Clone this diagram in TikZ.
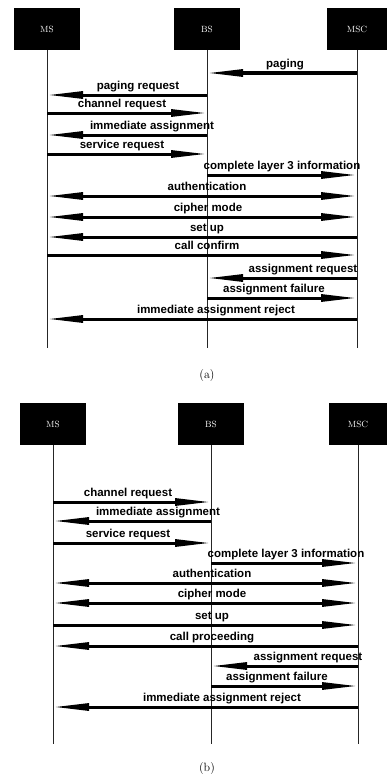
\documentclass[tikz,border=0pt]{standalone}
\usepackage{fontspec}
\newfontfamily\msgfont{Liberation Sans}
\usetikzlibrary{
  arrows.meta,              % Triangle 箭头样式
  positioning               % 节点相对定位
}
\tikzset{
  entity box/.style={
    rectangle,
    fill=black,
    text=white,
    font=\small,
    minimum width=66pt,
    minimum height=42pt,
    inner sep=0pt
  },
  lifeline/.style={
    line width=0.8pt,
    color=black!85
  },
  msg/.style={
    -{Triangle[length=36pt,width=7pt]},
    line width=3pt
  },
  both msg/.style={
    {Triangle[length=36pt,width=7pt]}-{Triangle[length=36pt,width=7pt]},
    line width=3pt
  },
  msg label/.style={
    anchor=base,
    inner sep=0pt,
    font=\msgfont\bfseries\fontsize{11.5}{12}\selectfont
  },
  caption label/.style={
    font=\large
  }
}

\begin{document}
\begin{tikzpicture}[x=1pt, y=-1pt]
    % 画布大小与参考图一致 (387 x 776)
    \useasboundingbox (0,0) rectangle (387,776);

    % ================= (a) =================
    % --- 实体方框 ---
    \node[entity box] (ms-a)  at (47, 29)  {MS};
    \node[entity box] (bs-a)  at (207, 29) {BS};
    \node[entity box, minimum width=60pt] (msc-a) at (357, 29) {MSC};

    % --- 生命线 ---
    \coordinate (ms-a-end)  at (47, 348);
    \coordinate (bs-a-end)  at (207, 348);
    \coordinate (msc-a-end) at (357, 348);
    \draw[lifeline] (ms-a.south)  -- (ms-a-end);
    \draw[lifeline] (bs-a.south)  -- (bs-a-end);
    \draw[lifeline] (msc-a.south) -- (msc-a-end);

    % --- 消息 ---
    \draw[msg] (msc-a |- 0,73) -- (bs-a |- 0,73);
    \node[msg label] at (285, 67) {paging};

    \draw[msg] (bs-a |- 0,95) -- (ms-a |- 0,95);
    \node[msg label] at (138, 89) {paging request};

    \draw[msg] (ms-a |- 0,113) -- (bs-a |- 0,113);
    \node[msg label] at (122, 107) {channel request};

    \draw[msg] (bs-a |- 0,135) -- (ms-a |- 0,135);
    \node[msg label] at (152, 129) {immediate assignment};

    \draw[msg] (ms-a |- 0,154) -- (bs-a |- 0,154);
    \node[msg label] at (122, 148) {service request};

    \draw[msg] (bs-a |- 0,175) -- (msc-a |- 0,175);
    \node[msg label] at (282, 169) {complete layer 3 information};

    \draw[both msg] (ms-a |- 0,196) -- (msc-a |- 0,196);
    \node[msg label] at (207, 190) {authentication};

    \draw[both msg] (ms-a |- 0,217) -- (msc-a |- 0,217);
    \node[msg label] at (208, 211) {cipher mode};

    \draw[msg] (msc-a |- 0,237) -- (ms-a |- 0,237);
    \node[msg label] at (207, 231) {set up};

    \draw[msg] (ms-a |- 0,255) -- (msc-a |- 0,255);
    \node[msg label] at (207, 249) {call confirm};

    \draw[msg] (msc-a |- 0,278) -- (bs-a |- 0,278);
    \node[msg label] at (303, 272) {assignment request};

    \draw[msg] (bs-a |- 0,298) -- (msc-a |- 0,298);
    \node[msg label] at (274, 292) {assignment failure};

    \draw[msg] (msc-a |- 0,319) -- (ms-a |- 0,319);
    \node[msg label] at (216, 313) {immediate assignment reject};

    \node[caption label] (cap-a) at (207, 376) {(a)};

    % ================= (b) =================
    % --- 实体方框 ---
    \node[entity box] (ms-b)  at (53, 424)  {MS};
    \node[entity box] (bs-b)  at (211, 424) {BS};
    \node[entity box, minimum width=58pt] (msc-b) at (358, 424) {MSC};

    % --- 生命线 ---
    \coordinate (ms-b-end)  at (53, 744);
    \coordinate (bs-b-end)  at (211, 744);
    \coordinate (msc-b-end) at (358, 744);
    \draw[lifeline] (ms-b.south)  -- (ms-b-end);
    \draw[lifeline] (bs-b.south)  -- (bs-b-end);
    \draw[lifeline] (msc-b.south) -- (msc-b-end);

    % --- 消息 ---
    \draw[msg] (ms-b |- 0,502) -- (bs-b |- 0,502);
    \node[msg label] at (128, 496) {channel request};

    \draw[msg] (bs-b |- 0,521) -- (ms-b |- 0,521);
    \node[msg label] at (158, 515) {immediate assignment};

    \draw[msg] (ms-b |- 0,543) -- (bs-b |- 0,543);
    \node[msg label] at (128, 537) {service request};

    \draw[msg] (bs-b |- 0,563) -- (msc-b |- 0,563);
    \node[msg label] at (286, 557) {complete layer 3 information};

    \draw[both msg] (ms-b |- 0,583) -- (msc-b |- 0,583);
    \node[msg label] at (212, 577) {authentication};

    \draw[both msg] (ms-b |- 0,603) -- (msc-b |- 0,603);
    \node[msg label] at (212, 597) {cipher mode};

    \draw[msg] (ms-b |- 0,625) -- (msc-b |- 0,625);
    \node[msg label] at (212, 619) {set up};

    \draw[msg] (msc-b |- 0,646) -- (ms-b |- 0,646);
    \node[msg label] at (212, 640) {call proceeding};

    \draw[msg] (msc-b |- 0,666) -- (bs-b |- 0,666);
    \node[msg label] at (308, 660) {assignment request};

    \draw[msg] (bs-b |- 0,686) -- (msc-b |- 0,686);
    \node[msg label] at (277, 680) {assignment failure};

    \draw[msg] (msc-b |- 0,707) -- (ms-b |- 0,707);
    \node[msg label] at (222, 701) {immediate assignment reject};

    \node[caption label] (cap-b) at (207, 768) {(b)};

  \end{tikzpicture}
\end{document}
